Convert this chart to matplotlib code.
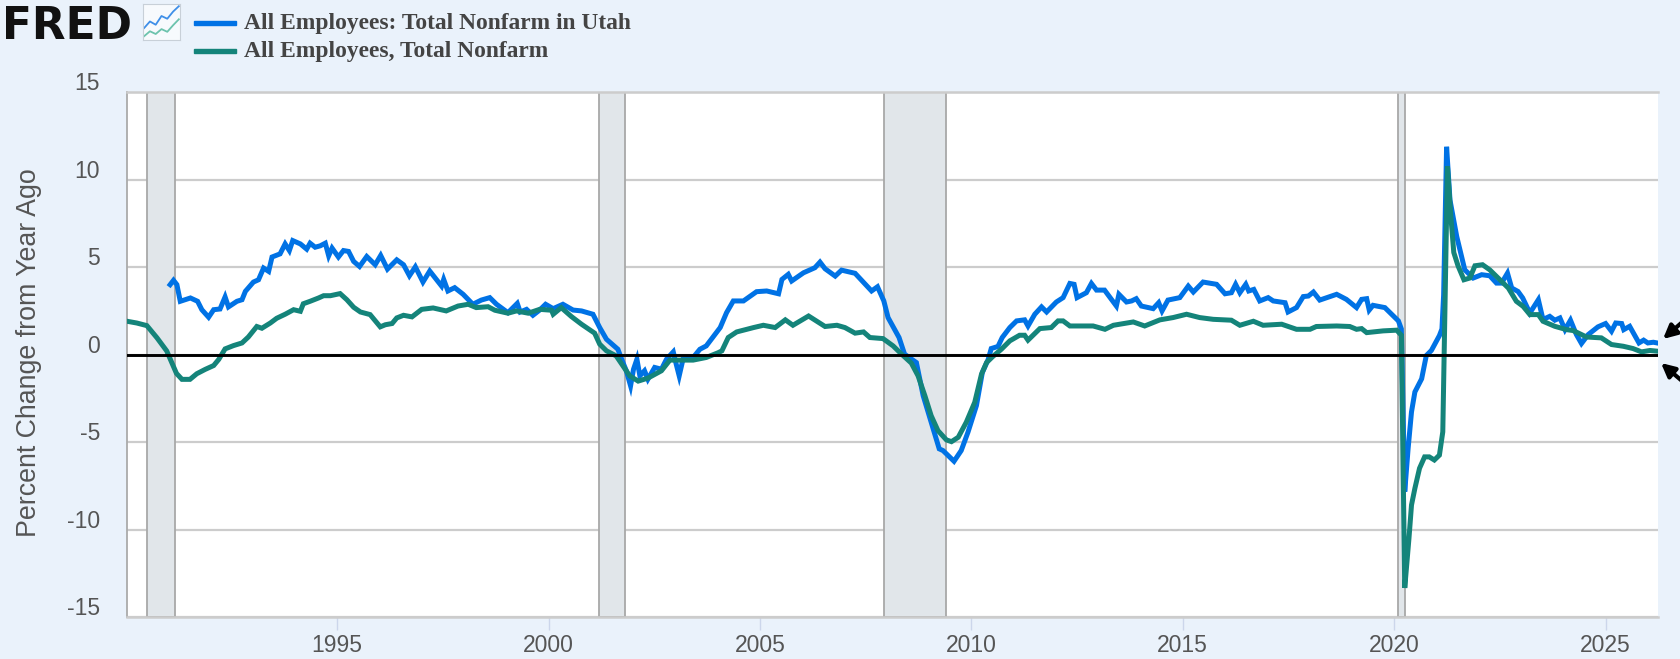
import matplotlib
matplotlib.use('Agg')
import matplotlib.pyplot as plt
from matplotlib.patches import Rectangle

W, H = 1681, 659

utah_dates = [
    1991.05, 1991.13, 1991.21, 1991.29, 1991.53, 1991.70, 1991.80, 1991.96, 1992.08, 1992.23, 1992.35, 1992.43,
    1992.63, 1992.75, 1992.83, 1993.02, 1993.14, 1993.26, 1993.38, 1993.46, 1993.65, 1993.77, 1993.87, 1993.95,
    1994.13, 1994.28, 1994.36, 1994.48, 1994.60, 1994.72, 1994.80, 1994.88, 1995.03, 1995.15, 1995.27, 1995.39,
    1995.53, 1995.70, 1995.90, 1996.03, 1996.19, 1996.41, 1996.57, 1996.71, 1996.85, 1997.03, 1997.19, 1997.47,
    1997.52, 1997.62, 1997.78, 1997.98, 1998.21, 1998.41, 1998.61, 1998.77, 1999.04, 1999.26, 1999.33, 1999.48,
    1999.63, 1999.79, 1999.93, 2000.11, 2000.34, 2000.58, 2000.78, 2001.05, 2001.21, 2001.37, 2001.64, 2001.76,
    2001.84, 2001.94, 2002.01, 2002.09, 2002.16, 2002.27, 2002.35, 2002.51, 2002.67, 2002.79, 2002.95, 2003.01,
    2003.09, 2003.18, 2003.42, 2003.58, 2003.73, 2004.06, 2004.21, 2004.37, 2004.61, 2004.92, 2005.16, 2005.44,
    2005.52, 2005.67, 2005.75, 2006.03, 2006.30, 2006.42, 2006.54, 2006.78, 2006.93, 2007.25, 2007.64, 2007.78,
    2007.93, 2008.03, 2008.29, 2008.42, 2008.70, 2008.86, 2009.05, 2009.24, 2009.33, 2009.59, 2009.76, 2009.92,
    2010.12, 2010.26, 2010.40, 2010.47, 2010.63, 2010.73, 2010.91, 2011.07, 2011.26, 2011.34, 2011.50, 2011.66,
    2011.78, 2012.01, 2012.17, 2012.33, 2012.43, 2012.50, 2012.72, 2012.84, 2012.96, 2013.15, 2013.43, 2013.49,
    2013.67, 2013.79, 2013.90, 2014.02, 2014.30, 2014.43, 2014.51, 2014.65, 2014.93, 2015.13, 2015.25, 2015.48,
    2015.80, 2016.00, 2016.15, 2016.25, 2016.35, 2016.49, 2016.56, 2016.68, 2016.82, 2017.02, 2017.14, 2017.42,
    2017.49, 2017.69, 2017.85, 2017.97, 2018.09, 2018.24, 2018.64, 2018.87, 2019.11, 2019.23, 2019.35, 2019.41,
    2019.50, 2019.78, 2019.98, 2020.10, 2020.17, 2020.25, 2020.33, 2020.41, 2020.49, 2020.65, 2020.76, 2020.88,
    2021.07, 2021.13, 2021.17, 2021.24, 2021.32, 2021.48, 2021.67, 2021.87, 2022.07, 2022.26, 2022.42, 2022.54,
    2022.68, 2022.78, 2022.93, 2023.04, 2023.21, 2023.41, 2023.52, 2023.68, 2023.80, 2023.92, 2024.04, 2024.17,
    2024.31, 2024.43, 2024.59, 2024.82, 2025.00, 2025.14, 2025.24, 2025.38, 2025.43, 2025.57, 2025.79, 2025.90,
    2026.00, 2026.13, 2026.22,
]
utah_values = [
    3.99, 4.24, 3.99, 3.04, 3.23, 3.04, 2.56, 2.13, 2.56, 2.60, 3.29, 2.72,
    3.04, 3.13, 3.61, 4.14, 4.27, 4.94, 4.75, 5.57, 5.75, 6.32, 5.94, 6.51,
    6.32, 6.02, 6.36, 6.13, 6.21, 6.36, 5.64, 6.08, 5.57, 5.94, 5.89, 5.32,
    5.03, 5.60, 5.13, 5.66, 4.88, 5.41, 5.13, 4.50, 5.01, 4.14, 4.77, 3.91,
    4.29, 3.63, 3.82, 3.44, 2.87, 3.11, 3.25, 2.87, 2.39, 2.92, 2.43, 2.58,
    2.24, 2.54, 2.87, 2.62, 2.87, 2.54, 2.49, 2.30, 1.54, 0.87, 0.30, -0.46,
    -0.93, -1.79, -0.84, -0.27, -1.22, -0.93, -1.41, -0.74, -0.84, -0.27, 0.15, -0.46,
    -1.22, -0.27, -0.17, 0.30, 0.49, 1.54, 2.39, 3.06, 3.06, 3.59, 3.63, 3.47,
    4.29, 4.58, 4.20, 4.67, 4.96, 5.28, 4.90, 4.48, 4.82, 4.64, 3.63, 3.87,
    3.06, 2.11, 0.97, 0.02, -0.46, -2.35, -3.87, -5.39, -5.49, -6.10, -5.49, -4.44,
    -2.92, -1.03, -0.27, 0.34, 0.46, 0.97, 1.54, 1.92, 1.98, 1.63, 2.30, 2.72,
    2.43, 3.00, 3.25, 4.06, 4.01, 3.25, 3.53, 4.06, 3.68, 3.68, 2.77, 3.44,
    3.00, 3.06, 3.19, 2.77, 2.62, 2.96, 2.49, 3.11, 3.25, 3.91, 3.57, 4.14,
    4.01, 3.47, 3.53, 4.01, 3.53, 4.01, 3.63, 3.72, 3.06, 3.25, 3.06, 2.96,
    2.43, 2.68, 3.31, 3.34, 3.57, 3.11, 3.44, 3.15, 2.68, 3.15, 3.19, 2.54,
    2.81, 2.68, 2.20, 1.92, 1.46, -7.84, -5.37, -3.28, -2.14, -1.39, -0.06, 0.23,
    1.08, 1.46, 3.40, 11.87, 8.83, 6.74, 4.84, 4.37, 4.56, 4.50, 4.08, 4.08,
    4.65, 3.80, 3.60, 3.23, 2.37, 3.13, 2.00, 2.18, 1.96, 2.09, 1.42, 1.96,
    1.14, 0.63, 1.14, 1.58, 1.77, 1.33, 1.80, 1.77, 1.42, 1.61, 0.66, 0.82,
    0.66, 0.70, 0.66,
]

us_dates = [
    1990.03, 1990.26, 1990.50, 1990.74, 1990.97, 1991.09, 1991.20, 1991.33, 1991.52, 1991.68, 1991.88, 1992.08,
    1992.20, 1992.35, 1992.55, 1992.75, 1992.90, 1993.10, 1993.22, 1993.42, 1993.57, 1993.77, 1993.97, 1994.13,
    1994.20, 1994.36, 1994.56, 1994.68, 1994.84, 1995.07, 1995.23, 1995.39, 1995.55, 1995.78, 1996.02, 1996.14,
    1996.30, 1996.41, 1996.57, 1996.77, 1997.00, 1997.27, 1997.58, 1997.86, 1998.10, 1998.29, 1998.57, 1998.73,
    1999.04, 1999.24, 1999.52, 1999.79, 2000.07, 2000.11, 2000.30, 2000.54, 2000.78, 2001.09, 2001.21, 2001.37,
    2001.60, 2001.76, 2001.92, 2002.12, 2002.35, 2002.67, 2002.87, 2003.10, 2003.42, 2003.73, 2004.01, 2004.10,
    2004.25, 2004.45, 2004.85, 2005.08, 2005.36, 2005.60, 2005.78, 2006.15, 2006.54, 2006.82, 2007.01, 2007.25,
    2007.45, 2007.60, 2007.91, 2008.15, 2008.35, 2008.58, 2008.74, 2008.90, 2009.05, 2009.21, 2009.41, 2009.53,
    2009.69, 2009.88, 2010.08, 2010.24, 2010.36, 2010.51, 2010.71, 2010.91, 2011.14, 2011.26, 2011.34, 2011.62,
    2011.89, 2012.05, 2012.17, 2012.33, 2012.64, 2012.88, 2013.16, 2013.36, 2013.83, 2014.10, 2014.46, 2014.77,
    2015.09, 2015.40, 2015.72, 2016.15, 2016.35, 2016.67, 2016.90, 2017.34, 2017.69, 2018.01, 2018.16, 2018.64,
    2018.95, 2019.11, 2019.23, 2019.35, 2019.74, 2020.06, 2020.17, 2020.25, 2020.35, 2020.41, 2020.49, 2020.60,
    2020.72, 2020.83, 2020.95, 2021.07, 2021.15, 2021.19, 2021.26, 2021.34, 2021.41, 2021.51, 2021.65, 2021.79,
    2021.91, 2022.09, 2022.26, 2022.50, 2022.70, 2022.89, 2023.05, 2023.21, 2023.41, 2023.52, 2023.80, 2024.08,
    2024.23, 2024.55, 2024.90, 2025.14, 2025.42, 2025.65, 2025.85, 2026.05, 2026.22,
]
us_values = [
    1.90, 1.80, 1.65, 0.95, 0.20, -0.47, -1.08, -1.42, -1.42, -1.10, -0.85, -0.63,
    -0.28, 0.32, 0.51, 0.66, 1.00, 1.60, 1.50, 1.80, 2.07, 2.30, 2.56, 2.47,
    2.90, 3.04, 3.23, 3.36, 3.36, 3.48, 3.13, 2.70, 2.43, 2.28, 1.58, 1.70,
    1.77, 2.09, 2.24, 2.15, 2.58, 2.66, 2.49, 2.77, 2.87, 2.68, 2.73, 2.53,
    2.36, 2.49, 2.36, 2.58, 2.53, 2.30, 2.68, 2.17, 1.73, 1.22, 0.59, 0.21,
    -0.08, -0.65, -1.22, -1.52, -1.35, -0.93, -0.32, -0.32, -0.32, -0.17, 0.10, 0.21,
    0.97, 1.29, 1.54, 1.67, 1.54, 1.98, 1.67, 2.20, 1.60, 1.67, 1.54, 1.22,
    1.29, 0.97, 0.91, 0.49, 0.02, -0.49, -1.22, -2.35, -3.50, -4.35, -4.88, -4.98,
    -4.73, -3.87, -2.73, -1.12, -0.46, -0.11, 0.30, 0.78, 1.10, 1.10, 0.82, 1.48,
    1.54, 1.92, 1.92, 1.63, 1.63, 1.63, 1.44, 1.67, 1.86, 1.63, 1.98, 2.11,
    2.30, 2.11, 2.01, 1.96, 1.67, 1.90, 1.67, 1.73, 1.44, 1.44, 1.60, 1.63,
    1.60, 1.44, 1.48, 1.25, 1.35, 1.39, 1.10, -13.34, -10.50, -8.60, -7.65, -6.50,
    -5.85, -5.85, -6.03, -5.75, -4.42, 1.08, 10.76, 7.90, 5.83, 5.07, 4.27, 4.37,
    5.07, 5.13, 4.84, 4.27, 3.80, 3.04, 2.75, 2.28, 2.28, 1.90, 1.61, 1.42,
    1.37, 1.00, 0.95, 0.57, 0.47, 0.34, 0.15, 0.23, 0.19,
]

recession_starts = [1990.50, 2001.19, 2007.93, 2020.08]
recession_ends = [1991.17, 2001.81, 2009.40, 2020.25]

x_ticks = [1995, 2000, 2005, 2010, 2015, 2020, 2025]
y_ticks = [15, 10, 5, 0, -5, -10, -15]
utah_label = 'All Employees: Total Nonfarm in Utah'
us_label = 'All Employees, Total Nonfarm'

logo_x = [0, 1, 2, 3, 4, 5, 6]
logo_blue = [2.2, 3.4, 2.8, 4.4, 3.9, 5.2, 6.2]
logo_green = [0.7, 1.6, 1.1, 2.0, 1.5, 2.7, 3.8]

BG = '#eaf2fb'
BLUE = '#0072e5'
GREEN = '#14847a'
GREY_TEXT = '#555555'


def px(x, y):
    return x / W, 1 - y / H


plt.rcParams['font.family'] = ['Liberation Sans', 'DejaVu Sans']

fig = plt.figure(figsize=(W / 100, H / 100), dpi=100, facecolor=BG)
ax = fig.add_axes([127 / W, (H - 617) / H, (1658 - 127) / W, (617 - 92) / H], facecolor='white')

for start, end in zip(recession_starts, recession_ends):
    ax.axvspan(start, end, facecolor='#e1e6ea', edgecolor='#a8a8a8', linewidth=1.3, zorder=1)

ax.grid(axis='y', color='#cccccc', linewidth=1.6, zorder=1.5)
ax.set_axisbelow(True)
ax.plot(utah_dates, utah_values, color=BLUE, linewidth=3.6, solid_joinstyle='miter', zorder=3)
ax.plot(us_dates, us_values, color=GREEN, linewidth=3.6, solid_joinstyle='miter', zorder=4)
ax.axhline(0, color='black', linewidth=2.1, zorder=5)

ax.set_xlim(1990.03, 2026.24)
ax.set_ylim(-14.95, 14.98)
ax.set_xticks(x_ticks)
ax.set_yticks(y_ticks)
ax.set_yticklabels([])
ax.tick_params(axis='y', length=0)
ax.tick_params(axis='x', length=9, width=1, color='#ccd6eb', labelsize=16.5, labelcolor=GREY_TEXT, pad=3)

# fred puts the y labels above their gridlines
for val in y_ticks:
    ax.annotate(str(val), xy=(0, val), xycoords=ax.get_yaxis_transform(), xytext=(-19.5, 6), textcoords='offset points',
                ha='right', va='center', fontsize=16.5, color=GREY_TEXT, annotation_clip=False)

for side in ['top', 'bottom']:
    ax.spines[side].set_color('#cccccc')
    ax.spines[side].set_linewidth(1.8)
ax.spines['left'].set_color('#aaaaaa')
ax.spines['left'].set_linewidth(1.3)
ax.spines['right'].set_visible(False)

fig.text(*px(29, 353), 'Percent Change from Year Ago', rotation=90, ha='center', va='center',
         fontsize=19.3, color=GREY_TEXT)

# header: logo, icon and legend
fig.text(*px(2, 39), 'FRED', family='DejaVu Sans', fontsize=31.6, fontweight='bold', color='#111111',
         ha='left', va='baseline')
icon = fig.add_axes([143 / W, (H - 40) / H, 37 / W, 36 / H], facecolor='#f7fafd')
icon.plot(logo_x, logo_blue, color='#3f8fe8', linewidth=1.3)
icon.plot(logo_x, logo_green, color='#6cc3ad', linewidth=1.3)
icon.set_xticks([])
icon.set_yticks([])
icon.set_xlim(-0.2, 6.2)
icon.set_ylim(0, 6.6)
for spine in icon.spines.values():
    spine.set_color('#c8d0d8')

fig.add_artist(Rectangle(px(194, 25), 42 / W, 4 / H, transform=fig.transFigure, color=BLUE))
fig.add_artist(Rectangle(px(194, 53), 42 / W, 4 / H, transform=fig.transFigure, color=GREEN))
fig.text(*px(244, 23), utah_label, family='Liberation Serif', fontweight='bold', fontsize=16.9, color='#444444',
         ha='left', va='center')
fig.text(*px(244, 51), us_label, family='Liberation Serif', fontweight='bold', fontsize=16.9, color='#444444',
         ha='left', va='center')

# the two black arrows on the right edge
arrow = dict(arrowstyle='-|>,head_width=0.4,head_length=0.8', color='black', linewidth=3.0, shrinkA=0, shrinkB=0)
fig.add_artist(plt.Annotation('', xy=px(1663, 339), xytext=px(1695, 311), xycoords='figure fraction',
                              textcoords='figure fraction', arrowprops=arrow))
fig.add_artist(plt.Annotation('', xy=px(1661, 363), xytext=px(1695, 392), xycoords='figure fraction',
                              textcoords='figure fraction', arrowprops=arrow))

fig.savefig('out.png', dpi=100, facecolor=BG)
plt.close(fig)
